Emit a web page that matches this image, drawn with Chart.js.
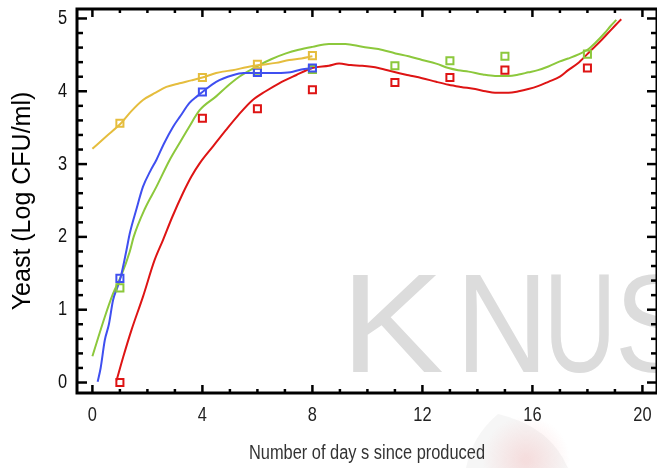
<!DOCTYPE html>
<html>
<head>
<meta charset="utf-8">
<script src="https://cdn.jsdelivr.net/npm/chart.js@4.4.1/dist/chart.umd.min.js"></script>
<style>
  html, body { margin: 0; padding: 0; background: #fff; overflow: hidden; }
  #wrap { width: 664px; height: 468px; }
</style>
</head>
<body>
<div id="wrap"><canvas id="yeastChart"></canvas></div>
<script>
// ==============================
// DATA
// ==============================
const xTickDays = [0, 4, 8, 12, 16, 20];
const yTickLogs = [0, 1, 2, 3, 4, 5];
const xTitle = 'Number of day s since produced';
const yTitle = 'Yeast (Log CFU/ml)';

// measured counts (days / log CFU per ml)
const yellowDays = [1, 4, 6, 8];
const yellowLog  = [3.56, 4.19, 4.37, 4.49];
const blueDays   = [1, 4, 6, 8];
const blueLog    = [1.43, 3.99, 4.26, 4.32];
const greenDays  = [1, 6, 8, 11, 13, 15, 18];
const greenLog   = [1.30, 4.27, 4.30, 4.35, 4.42, 4.48, 4.51];
const redDays    = [1, 4, 6, 8, 11, 13, 15, 18];
const redLog     = [0.00, 3.63, 3.76, 4.02, 4.12, 4.19, 4.29, 4.32];

// fitted growth curves
const yellowFitDays = [0.0, 0.5, 1.04, 1.4, 1.84, 2.3, 2.69, 3.17, 3.6, 4.0, 4.5, 4.74, 5.1, 5.6, 6.07, 6.67, 7.16, 7.6, 8.0];
const yellowFitLog  = [3.21, 3.38, 3.56, 3.72, 3.88, 3.98, 4.06, 4.11, 4.15, 4.19, 4.25, 4.27, 4.29, 4.33, 4.36, 4.39, 4.43, 4.45, 4.48];

const blueFitDays = [0.19, 0.3, 0.45, 0.6, 0.75, 0.9, 1.03, 1.24, 1.36, 1.6, 1.84, 2.1, 2.33, 2.6, 2.93, 3.2, 3.53, 3.8, 4.0, 4.5, 5.1, 5.5, 6.07, 6.7, 7.2, 7.6, 8.0];
const blueFitLog  = [0.01, 0.2, 0.58, 0.8, 1.13, 1.3, 1.45, 1.82, 2.05, 2.38, 2.69, 2.9, 3.06, 3.28, 3.51, 3.66, 3.84, 3.93, 3.99, 4.13, 4.22, 4.25, 4.25, 4.25, 4.26, 4.3, 4.32];

const greenFitDays = [0.0, 0.45, 0.75, 1.03, 1.36, 1.5, 1.9, 2.33, 2.8, 3.17, 3.5, 3.9, 4.5, 5.0, 5.34, 6.07, 6.5, 7.04, 7.5, 8.0, 8.6, 9.2, 9.81, 10.4, 11.02, 11.5, 11.99, 12.5, 12.95, 13.3, 13.68, 14.2, 14.64, 15.13, 15.5, 15.85, 16.2, 16.58, 17.0, 17.3, 17.7, 18.0, 18.3, 18.63, 18.85, 19.05];
const greenFitLog  = [0.36, 0.9, 1.22, 1.45, 1.8, 2.0, 2.38, 2.69, 3.05, 3.29, 3.5, 3.74, 3.93, 4.1, 4.2, 4.36, 4.44, 4.52, 4.57, 4.61, 4.65, 4.65, 4.61, 4.58, 4.52, 4.48, 4.43, 4.38, 4.32, 4.29, 4.27, 4.23, 4.21, 4.21, 4.23, 4.26, 4.29, 4.34, 4.41, 4.45, 4.51, 4.57, 4.67, 4.8, 4.9, 4.98];

const redFitDays = [0.88, 1.12, 1.42, 1.84, 2.26, 2.57, 2.9, 3.29, 3.6, 3.9, 4.4, 4.86, 5.3, 5.83, 6.3, 6.79, 7.4, 8.0, 8.6, 8.97, 9.4, 9.81, 10.4, 11.02, 11.5, 11.99, 12.5, 12.95, 13.4, 13.92, 14.3, 14.64, 15.13, 15.5, 15.85, 16.2, 16.58, 17.0, 17.3, 17.7, 18.15, 18.45, 18.75, 19.0, 19.23];
const redFitLog  = [0.03, 0.35, 0.72, 1.18, 1.68, 1.96, 2.27, 2.6, 2.83, 3.01, 3.25, 3.47, 3.67, 3.88, 4.0, 4.11, 4.22, 4.32, 4.35, 4.38, 4.36, 4.35, 4.32, 4.26, 4.22, 4.18, 4.13, 4.09, 4.06, 4.03, 4.0, 3.98, 3.98, 4.0, 4.03, 4.07, 4.13, 4.2, 4.29, 4.4, 4.57, 4.68, 4.8, 4.9, 4.99];

// ==============================
// STYLE
// ==============================
const YELLOW = '#e5bd3d';
const BLUE = '#3f4ff0';
const GREEN = '#8cc83c';
const RED = '#de1414';
const SANS = "'Liberation Sans', Arial, sans-serif";

// ==============================
// HELPERS
// ==============================
function toPoints(xs, ys) {
    return xs.map((x, i) => ({ x: x, y: ys[i] }));
}

function markers(label, xs, ys, color) {
    return {
        label: label,
        data: toPoints(xs, ys),
        showLine: false,
        pointStyle: 'rect',
        pointRadius: 5,
        pointBorderWidth: 2,
        borderColor: color,
        backgroundColor: 'transparent'
    };
}

function curve(label, xs, ys, color) {
    return {
        label: label,
        data: toPoints(xs, ys),
        showLine: true,
        pointRadius: 0,
        borderWidth: 2,
        borderColor: color,
        cubicInterpolationMode: 'monotone'
    };
}

// squeezed sans text, reads like a narrow face
function narrowText(ctx, text, x, y, align) {
    ctx.save();
    ctx.translate(x, y);
    ctx.scale(0.82, 1);
    ctx.textAlign = align;
    ctx.textBaseline = 'middle';
    ctx.fillText(text, 0, 0);
    ctx.restore();
}

// ==============================
// PLUGINS
// ==============================
// faint letterhead stamp behind the plot
const stampPlugin = {
    id: 'stamp',
    beforeDraw(chart) {
        const ctx = chart.ctx;
        ctx.save();

        // soft emblem at the bottom
        ctx.fillStyle = 'rgba(200, 200, 200, 0.16)';
        ctx.beginPath();
        ctx.moveTo(498, 414);
        ctx.quadraticCurveTo(550, 426, 568, 468);
        ctx.lineTo(466, 468);
        ctx.quadraticCurveTo(472, 436, 498, 414);
        ctx.fill();
        const g = ctx.createRadialGradient(526, 460, 3, 526, 460, 44);
        g.addColorStop(0, 'rgba(240, 100, 100, 0.17)');
        g.addColorStop(1, 'rgba(240, 100, 100, 0)');
        ctx.fillStyle = g;
        ctx.fillRect(476, 410, 104, 58);

        // big grey letters, each fitted into its own box
        const letters = [['K', 353, 443], ['N', 466, 539], ['U', 551, 609], ['S', 620, 690]];
        const top = 275, bottom = 372;
        ctx.fillStyle = 'rgb(220, 220, 220)';
        ctx.font = '136px ' + SANS;
        ctx.textBaseline = 'alphabetic';
        ctx.textAlign = 'left';
        letters.forEach(([ch, left, right]) => {
            const m = ctx.measureText(ch);
            const w = m.actualBoundingBoxLeft + m.actualBoundingBoxRight;
            const h = m.actualBoundingBoxAscent;
            ctx.save();
            ctx.translate(left, bottom);
            ctx.scale((right - left) / w, (bottom - top) / h);
            ctx.fillText(ch, m.actualBoundingBoxLeft, 0);
            ctx.restore();
        });
        ctx.restore();
    }
};

// boxed frame with inward ticks on all four sides, plus tick labels
const framePlugin = {
    id: 'frame',
    afterDraw(chart) {
        const { ctx, chartArea: a, scales: { x, y } } = chart;
        const seg = (x1, y1, x2, y2) => {
            ctx.beginPath();
            ctx.moveTo(x1, y1);
            ctx.lineTo(x2, y2);
            ctx.stroke();
        };
        ctx.save();
        ctx.strokeStyle = '#000';
        ctx.lineWidth = 2.5;

        for (let d = 0; d <= 20; d++) {
            const px = x.getPixelForValue(d);
            const major = d % 4 === 0;
            seg(px, a.bottom, px, a.bottom - (major ? 8 : 4));
            seg(px, a.top, px, a.top + (major ? 8 : 4));
        }
        for (let i = 0; i <= 25; i++) {
            const py = y.getPixelForValue(i / 5);
            const major = i % 5 === 0;
            seg(a.left, py, a.left + (major ? 10 : 6), py);
            seg(a.right, py, a.right - (major ? 10 : 6), py);
        }

        ctx.lineWidth = 3;
        ctx.strokeRect(a.left, a.top, a.right - a.left, a.bottom - a.top);

        ctx.font = '20px ' + SANS;
        ctx.fillStyle = '#222';
        xTickDays.forEach(v => narrowText(ctx, String(v), x.getPixelForValue(v), a.bottom + 22, 'center'));
        ctx.fillStyle = '#111';
        yTickLogs.forEach(v => narrowText(ctx, String(v), a.left - 10, y.getPixelForValue(v), 'right'));

        ctx.font = '20px ' + SANS;
        ctx.fillStyle = '#333';
        narrowText(ctx, xTitle, (a.left + 657) / 2, 453, 'center');
        ctx.restore();
    }
};

// ==============================
// CHART
// ==============================
Chart.defaults.animation = false;

new Chart(document.getElementById('yeastChart'), {
    type: 'scatter',
    data: {
        datasets: [
            markers('Yellow observed', yellowDays, yellowLog, YELLOW),
            markers('Blue observed', blueDays, blueLog, BLUE),
            markers('Green observed', greenDays, greenLog, GREEN),
            markers('Red observed', redDays, redLog, RED),
            curve('Yellow fit', yellowFitDays, yellowFitLog, YELLOW),
            curve('Blue fit', blueFitDays, blueFitLog, BLUE),
            curve('Green fit', greenFitDays, greenFitLog, GREEN),
            curve('Red fit', redFitDays, redFitLog, RED)
        ]
    },
    options: {
        responsive: true,
        maintainAspectRatio: false,
        devicePixelRatio: 1,
        layout: { padding: { top: 9, right: 5, bottom: 0, left: 0 } },
        plugins: {
            legend: { display: false },
            tooltip: { enabled: false }
        },
        scales: {
            x: {
                type: 'linear',
                min: -0.56,
                max: 20.53,
                afterBuildTicks: (scale) => {
                    scale.ticks = xTickDays.map(v => ({ value: v }));
                },
                afterFit: (scale) => { scale.height = 75; },
                grid: { display: false, drawTicks: false },
                border: { display: false },
                ticks: { display: false }
            },
            y: {
                type: 'linear',
                min: -0.144,
                max: 5.13,
                afterBuildTicks: (scale) => {
                    scale.ticks = yTickLogs.map(v => ({ value: v }));
                },
                afterFit: (scale) => { scale.width = 77; },
                grid: { display: false, drawTicks: false },
                border: { display: false },
                ticks: { display: false },
                title: {
                    display: true,
                    text: yTitle,
                    color: '#000',
                    font: { family: SANS, size: 25 },
                    padding: { top: 8, bottom: 0 }
                }
            }
        }
    },
    plugins: [stampPlugin, framePlugin]
});
</script>
</body>
</html>
